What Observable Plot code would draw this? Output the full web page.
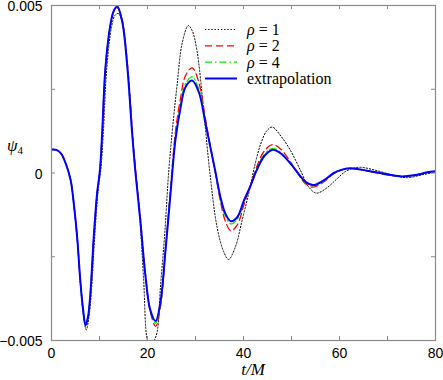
<!DOCTYPE html>
<html><head><meta charset="utf-8">
<script src="https://cdn.jsdelivr.net/npm/d3@7"></script>
<script src="https://cdn.jsdelivr.net/npm/@observablehq/plot@0.6"></script>
<style>
html,body{margin:0;padding:0;background:#fff;}
#chart svg{display:block;}
</style></head><body><div id="chart"></div>
<script>
// ---- data (psi_4 vs t/M) ----
const seriesNames = ["ρ = 1", "ρ = 2", "ρ = 4", "extrapolation"];

const tRho1 = [0, 1, 2, 3, 4, 4.65, 5.35, 6.0, 6.6, 7.25, 7.8, 8.3, 9.0, 9.7, 10.3, 10.8, 11.5, 12.5, 13.2, 13.95, 14.9, 16.0, 17.0, 17.5, 18.2, 19.2, 19.9, 20.7, 21.3, 22.0, 22.7, 23.6, 24.4, 25.4, 26.2, 27.2, 28.5, 29.3, 30.3, 31.7, 33.0, 34.5, 35.9, 36.9, 38.3, 39.7, 41.5, 42.3, 43.6, 44.8, 46.0, 47.8, 49.8, 51.9, 53.6, 55.2, 57.4, 59.5, 61.3, 64.0, 67.8, 71.3, 74.1, 77.6, 80];
const psiRho1 = [0.00070, 0.00069, 0.00058, 0.00027, -0.00024, -0.00095, -0.00197, -0.00330, -0.00420, -0.00468, -0.00430, -0.00355, -0.00190, -0.00055, 0.00015, 0.00120, 0.00310, 0.00435, 0.00470, 0.00476, 0.00435, 0.00290, 0.00090, 0.00010, -0.00091, -0.00320, -0.00495, -0.00530, -0.00505, -0.00475, -0.00340, -0.00180, 0.00000, 0.00160, 0.00267, 0.00386, 0.00440, 0.00425, 0.00366, 0.00187, 0.00000, -0.00162, -0.00236, -0.00258, -0.00221, -0.00142, -0.00035, 0.00020, 0.00087, 0.00125, 0.00137, 0.00110, 0.00067, 0.00007, -0.00042, -0.00060, -0.00044, -0.00017, 0.00005, 0.00017, 0.00007, -0.00007, -0.00014, -0.00004, 0.00002];

const tGrid = [0, 1, 2, 3, 4, 4.65, 5.35, 6.0, 6.6, 7.1, 7.6, 8.1, 8.8, 9.5, 10.1, 10.55, 11.25, 12.3, 13.0, 13.7, 14.7, 15.8, 16.8, 17.5, 18.5, 19.6, 20.6, 21.7, 22.7, 23.75, 24.8, 25.8, 26.9, 27.9, 29.3, 30.7, 32.1, 33.1, 34.2, 35.2, 36.25, 37.4, 38.7, 40.1, 41.5, 42.8, 44.3, 46.0, 47.7, 49.8, 51.6, 53.0, 54.5, 56.7, 58.8, 60.6, 62.3, 65.8, 69.2, 72.7, 75.5, 78.3, 80];
const psiRho2 = [0.00070, 0.00069, 0.00058, 0.00027, -0.00022, -0.00092, -0.00192, -0.00321, -0.00410, -0.00455, -0.00430, -0.00360, -0.00192, -0.00061, 0.00010, 0.00118, 0.00316, 0.00443, 0.00483, 0.00493, 0.00458, 0.00330, 0.00135, 0.00010, -0.00130, -0.00305, -0.00415, -0.00458, -0.00400, -0.00230, -0.00045, 0.00120, 0.00225, 0.00290, 0.00314, 0.00270, 0.00160, 0.00080, -0.00005, -0.00085, -0.00145, -0.00173, -0.00155, -0.00095, -0.00035, 0.00020, 0.00065, 0.00085, 0.00072, 0.00033, -0.00008, -0.00033, -0.00042, -0.00027, -0.00002, 0.00010, 0.00014, 0.00006, -0.00004, -0.00011, -0.00008, 0.00001, 0.00004];
const psiRho4 = [0.00070, 0.00069, 0.00058, 0.00027, -0.00022, -0.00092, -0.00192, -0.00321, -0.00410, -0.00455, -0.00430, -0.00360, -0.00192, -0.00061, 0.00010, 0.00118, 0.00316, 0.00445, 0.00485, 0.00497, 0.00455, 0.00316, 0.00118, 0.00000, -0.00140, -0.00310, -0.00412, -0.00448, -0.00390, -0.00230, -0.00055, 0.00105, 0.00205, 0.00266, 0.00287, 0.00250, 0.00152, 0.00078, -0.00002, -0.00076, -0.00129, -0.00152, -0.00138, -0.00086, -0.00037, 0.00013, 0.00055, 0.00073, 0.00062, 0.00029, -0.00006, -0.00029, -0.00038, -0.00024, 0.00000, 0.00010, 0.00014, 0.00007, -0.00002, -0.00010, -0.00007, 0.00002, 0.00005];
const psiExtrap = [0.00070, 0.00069, 0.00058, 0.00027, -0.00022, -0.00092, -0.00192, -0.00321, -0.00410, -0.00455, -0.00430, -0.00360, -0.00192, -0.00061, 0.00010, 0.00118, 0.00316, 0.00445, 0.00485, 0.00497, 0.00455, 0.00316, 0.00118, 0.00000, -0.00142, -0.00311, -0.00410, -0.00442, -0.00385, -0.00231, -0.00061, 0.00097, 0.00196, 0.00256, 0.00276, 0.00241, 0.00147, 0.00077, 0.00000, -0.00072, -0.00122, -0.00144, -0.00132, -0.00082, -0.00037, 0.00010, 0.00050, 0.00069, 0.00059, 0.00028, -0.00005, -0.00027, -0.00036, -0.00022, 0.00000, 0.00010, 0.00014, 0.00007, -0.00002, -0.00010, -0.00007, 0.00002, 0.00005];

const xTickLabels = [0, 20, 40, 60, 80];
const xTickMarks = [0, 10, 20, 30, 40, 50, 60, 70, 80];
const yTickLabels = [-0.005, 0, 0.005];
const yTickMarks = [-0.005, -0.0025, 0, 0.0025, 0.005];

// ---- build tables ----
const toRows = (ts, ps) => ts.map((t, i) => ({t, psi: ps[i]}));
const rho1 = toRows(tRho1, psiRho1);
const rho2 = toRows(tGrid, psiRho2);
const rho4 = toRows(tGrid, psiRho4);
const extrap = toRows(tGrid, psiExtrap);

const W = 443, H = 380, mL = 51, mR = 8, mT = 5, mB = 40;
const pW = W - mL - mR, pH = H - mT - mB;
const frameColor = "#8a8a8a";

const styles = [
  {stroke: "#000000", strokeWidth: 1, strokeDasharray: "1.3,1.9"},
  {stroke: "#ff0000", strokeWidth: 1.3, strokeDasharray: "7,4"},
  {stroke: "#00ee00", strokeWidth: 1.3, strokeDasharray: "7,3,1.5,3"},
  {stroke: "#0000ff", strokeWidth: 2, strokeDasharray: null}
];
const datasets = [rho1, rho2, rho4, extrap];

const fmt = d => d === 0 ? "0" : (d < 0 ? "\u2212" : "") + Math.abs(d).toFixed(3);

const plot = Plot.plot({
  width: W, height: H,
  marginLeft: mL, marginRight: mR, marginTop: mT, marginBottom: mB,
  style: {fontFamily: "'Liberation Sans', Arial, Helvetica, sans-serif", fontSize: "14px", background: "#fff", color: "#000"},
  x: {domain: [0, 80]},
  y: {domain: [-0.005, 0.005]},
  marks: [
    ...datasets.map((d, i) => Plot.line(d, {x: "t", y: "psi", curve: "catmull-rom", clip: true,
      stroke: styles[i].stroke, strokeWidth: styles[i].strokeWidth,
      strokeDasharray: styles[i].strokeDasharray, strokeLinejoin: "round"})),
    Plot.frame({stroke: frameColor, strokeWidth: 1.2}),
    Plot.tickX(xTickMarks, {x: d => d, stroke: frameColor, insetTop: pH - 4}),
    Plot.tickX(xTickMarks, {x: d => d, stroke: frameColor, insetBottom: pH - 4}),
    Plot.tickY(yTickMarks, {y: d => d, stroke: frameColor, insetRight: pW - 4}),
    Plot.tickY(yTickMarks, {y: d => d, stroke: frameColor, insetLeft: pW - 4}),
    Plot.axisX(xTickLabels, {tickSize: 0, tickPadding: 8, label: null, fontSize: 14}),
    Plot.axisY(yTickLabels, {tickSize: 0, tickPadding: 9, dy: 1.5, label: null, tickFormat: fmt, fontSize: 14})
  ]
});
document.getElementById("chart").appendChild(plot);

// ---- axis titles and legend ----
const svg = d3.select(plot);
const serif = "'Liberation Serif', 'DejaVu Serif', 'Times New Roman', serif";

const yl = svg.append("text").attr("x", 7).attr("y", 151).attr("text-anchor", "start")
  .attr("font-family", serif).attr("font-size", 17).attr("fill", "#000");
yl.append("tspan").attr("font-style", "italic").text("ψ");
yl.append("tspan").attr("font-size", 11).attr("dy", 3).text("4");

const xl = svg.append("text").attr("x", 253).attr("y", 375).attr("text-anchor", "middle")
  .attr("font-family", serif).attr("font-size", 17).attr("font-style", "italic").attr("fill", "#000");
xl.text("t/M");

const legY = [29.5, 45.8, 62.1, 78.5];
const lg = svg.append("g");
seriesNames.forEach((name, i) => {
  lg.append("line").attr("x1", 205).attr("x2", 237).attr("y1", legY[i]).attr("y2", legY[i])
    .attr("stroke", styles[i].stroke).attr("stroke-width", styles[i].strokeWidth)
    .attr("stroke-dasharray", styles[i].strokeDasharray);
  const tx = lg.append("text").attr("x", 247).attr("y", legY[i] + 5.5).attr("text-anchor", "start")
    .attr("font-family", serif).attr("font-size", 16).attr("fill", "#000");
  if (name.startsWith("ρ")) {
    tx.append("tspan").attr("font-style", "italic").text("ρ");
    tx.append("tspan").text(name.slice(1));
  } else {
    tx.text(name);
  }
});
</script>
</body></html>
